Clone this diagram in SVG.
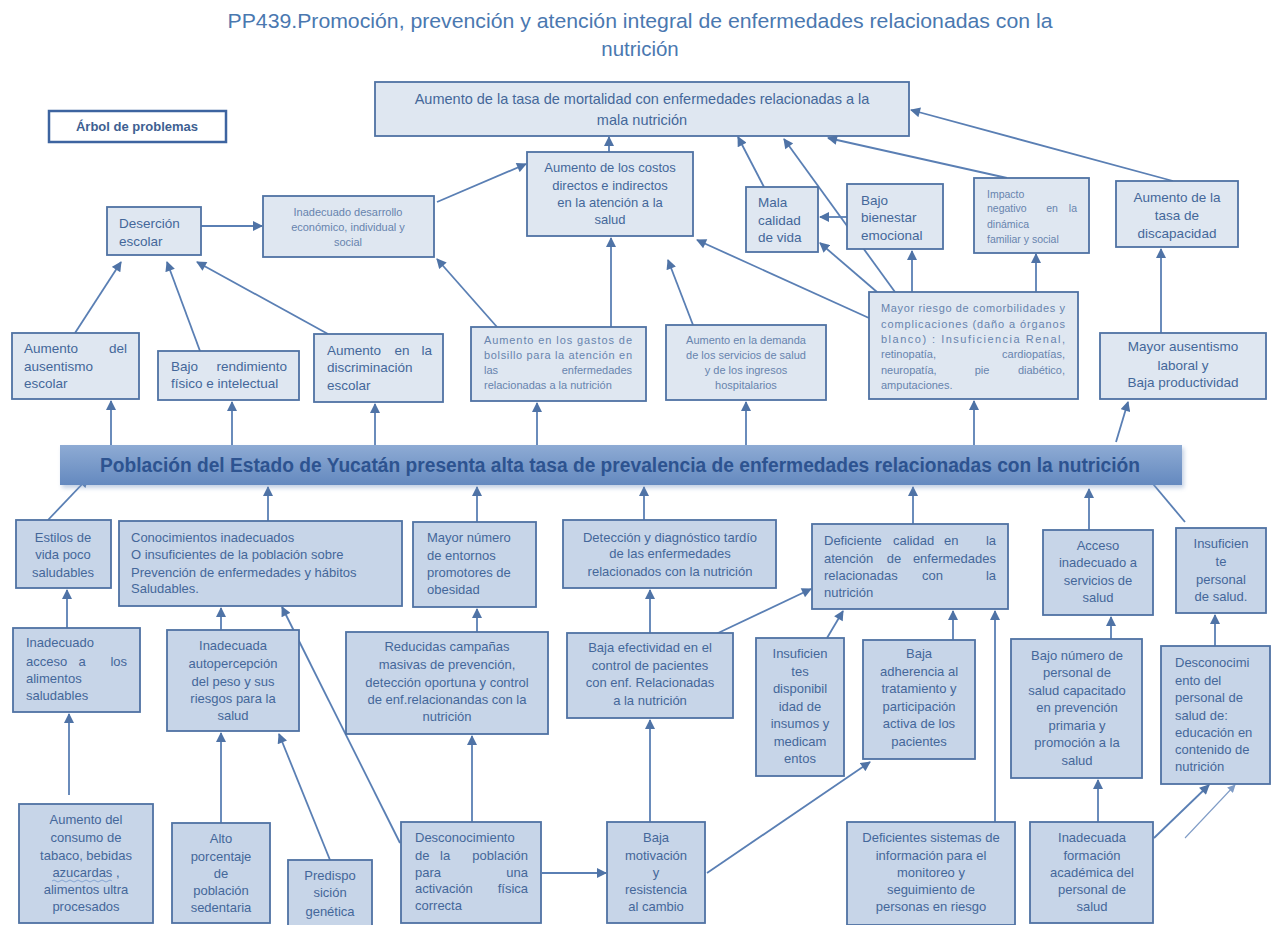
<svg xmlns="http://www.w3.org/2000/svg" width="1277" height="925" viewBox="0 0 1277 925">
  <defs>
    <marker id="ah" viewBox="0 0 10 10" refX="9" refY="5" markerWidth="11" markerHeight="10" markerUnits="userSpaceOnUse" orient="auto">
      <path d="M0,0 L10,5 L0,10 z" fill="#4f73a6"/>
    </marker>
    <marker id="ahs" viewBox="0 0 10 10" refX="9" refY="5" markerWidth="9" markerHeight="8" markerUnits="userSpaceOnUse" orient="auto">
      <path d="M0,0 L10,5 L0,10 z" fill="#7f9cc6"/>
    </marker>
    <linearGradient id="barFill" x1="0" y1="0" x2="0" y2="1">
      <stop offset="0" stop-color="#8eabd4"/>
      <stop offset="1" stop-color="#6489bf"/>
    </linearGradient>
    <filter id="soft" x="-5%" y="-30%" width="110%" height="160%">
      <feGaussianBlur stdDeviation="2"/>
    </filter>
    <style>
      .bl { fill:#dfe7f1; stroke:#4f72a3; stroke-width:1.8; }
      .bd { fill:#c7d5e8; stroke:#4f72a3; stroke-width:1.8; }
      .t { font-family:"Liberation Sans", Arial, sans-serif; font-size:13px; fill:#44679a; }
      .m { font-size:13.5px; }
      .s { font-size:11px; fill:#6784ae; }
      .c { text-anchor:middle; }
      .e { text-anchor:end; }
      .conn line { stroke:#5a7fb4; stroke-width:1.8; marker-end:url(#ah); }
      .conn line.thin { stroke:#7f9cc6; stroke-width:1.1; marker-end:url(#ahs); }
    </style>
  </defs>

  <rect width="1277" height="925" fill="#ffffff"/>

  <!-- Title -->
  <g id="title" class="t" style="font-size:20.5px;fill:#4a78b0">
    <text x="640" y="28" class="c" textLength="825" lengthAdjust="spacingAndGlyphs">PP439.Promoción, prevención y atención integral de enfermedades relacionadas con la</text>
    <text x="640" y="56" class="c">nutrición</text>
  </g>

  <g id="legend">
    <rect x="49" y="111" width="177" height="31" fill="#ffffff" stroke="#3d64a0" stroke-width="2.5"/>
    <text x="137" y="131" class="t c" style="font-weight:bold;fill:#3e5f92">Árbol de problemas</text>
  </g>

  <!-- Connectors -->
  <g id="connectors" class="conn">
    <line x1="201" y1="226" x2="262" y2="226"/>
    <line x1="437" y1="202" x2="526" y2="164"/>
    <line x1="609" y1="152" x2="609" y2="137"/>
    <line x1="611" y1="327" x2="611" y2="238"/>
    <line x1="497" y1="327" x2="437" y2="259"/>
    <line x1="764" y1="187" x2="738" y2="137"/>
    <line x1="895" y1="292" x2="784" y2="139"/>
    <line x1="877" y1="292" x2="820" y2="243"/>
    <line x1="869" y1="318" x2="697" y2="240"/>
    <line x1="912" y1="292" x2="912" y2="251"/>
    <line x1="847" y1="217" x2="820" y2="217"/>
    <line x1="693" y1="325" x2="668" y2="260"/>
    <line x1="1007" y1="178" x2="828" y2="138"/>
    <line x1="1173" y1="181" x2="911" y2="110"/>
    <line x1="1036" y1="292" x2="1036" y2="254"/>
    <line x1="1161" y1="333" x2="1161" y2="249"/>
    <line x1="111" y1="445" x2="111" y2="401"/>
    <line x1="232" y1="445" x2="232" y2="402"/>
    <line x1="375" y1="445" x2="375" y2="404"/>
    <line x1="537" y1="445" x2="537" y2="403"/>
    <line x1="746" y1="445" x2="746" y2="402"/>
    <line x1="974" y1="445" x2="974" y2="401"/>
    <line x1="1116" y1="442" x2="1128" y2="402"/>
    <line x1="75" y1="333" x2="121" y2="262"/>
    <line x1="200" y1="351" x2="167" y2="262"/>
    <line x1="328" y1="334" x2="197" y2="262"/>
    <line x1="48" y1="520" x2="88" y2="478"/>
    <line x1="268" y1="521" x2="268" y2="487"/>
    <line x1="477" y1="522" x2="477" y2="487"/>
    <line x1="644" y1="520" x2="644" y2="487"/>
    <line x1="913" y1="524" x2="913" y2="487"/>
    <line x1="1089" y1="530" x2="1089" y2="489"/>
    <line x1="1185" y1="522" x2="1143" y2="472"/>
    <line x1="67" y1="628" x2="67" y2="590"/>
    <line x1="221" y1="630" x2="221" y2="608"/>
    <line x1="400" y1="843" x2="282" y2="607"/>
    <line x1="477" y1="632" x2="477" y2="609"/>
    <line x1="650" y1="633" x2="650" y2="590"/>
    <line x1="716" y1="634" x2="811" y2="589"/>
    <line x1="827" y1="638" x2="843" y2="611"/>
    <line x1="953" y1="652" x2="953" y2="611"/>
    <line x1="995" y1="822" x2="995" y2="611"/>
    <line x1="1111" y1="647" x2="1111" y2="617"/>
    <line x1="1215" y1="646" x2="1215" y2="615"/>
    <line x1="69" y1="795" x2="69" y2="714"/>
    <line x1="221" y1="823" x2="221" y2="733"/>
    <line x1="330" y1="860" x2="279" y2="734"/>
    <line x1="472" y1="822" x2="472" y2="736"/>
    <line x1="542" y1="873" x2="606" y2="873"/>
    <line x1="650" y1="822" x2="650" y2="720"/>
    <line x1="707" y1="873" x2="870" y2="762"/>
    <line x1="1098" y1="822" x2="1098" y2="780"/>
    <line x1="1154" y1="838" x2="1209" y2="785"/>
    <line class="thin" x1="1185" y1="838" x2="1235" y2="785"/>
  </g>

  <!-- Central problem -->
  <g id="problema-central">
    <rect x="62" y="448" width="1122" height="40" fill="#7a98c4" opacity="0.45" filter="url(#soft)"/>
    <rect x="60" y="445" width="1122" height="40" fill="url(#barFill)"/>
    <text x="620" y="472" class="t c" textLength="1040" lengthAdjust="spacingAndGlyphs" style="font-size:19.5px;font-weight:bold;fill:#2d5390">Población  del Estado de Yucatán presenta alta tasa de prevalencia de enfermedades relacionadas con la nutrición</text>
  </g>

  <!-- Effects -->
  <g id="mortalidad">
    <rect class="bl" x="375" y="82" width="534" height="54"/>
    <text class="t c" x="642" y="104" style="font-size:14.5px">Aumento de la tasa de mortalidad con enfermedades relacionadas a la</text>
    <text class="t c" x="642" y="125" style="font-size:14.5px">mala nutrición</text>
  </g>

  <g id="desercion">
    <rect class="bl" x="107" y="207" width="94" height="48"/>
    <text class="t m" x="119" y="228">Deserción</text>
    <text class="t m" x="119" y="246">escolar</text>
  </g>

  <g id="desarrollo">
    <rect class="bl" x="263" y="196" width="171" height="61"/>
    <text class="t s c" x="348" y="216">Inadecuado desarrollo</text>
    <text class="t s c" x="348" y="231">económico, individual y</text>
    <text class="t s c" x="348" y="246">social</text>
  </g>

  <g id="costos">
    <rect class="bl" x="527" y="152" width="166" height="84"/>
    <text class="t c" x="610" y="172">Aumento de los costos</text>
    <text class="t c" x="610" y="190">directos e indirectos</text>
    <text class="t c" x="610" y="207">en la atención a la</text>
    <text class="t c" x="610" y="224">salud</text>
  </g>

  <g id="calidad-vida">
    <rect class="bl" x="746" y="187" width="72" height="65"/>
    <text class="t m" x="758" y="207">Mala</text>
    <text class="t m" x="758" y="225">calidad</text>
    <text class="t m" x="758" y="242">de vida</text>
  </g>

  <g id="bienestar">
    <rect class="bl" x="847" y="184" width="96" height="65"/>
    <text class="t m" x="861" y="205">Bajo</text>
    <text class="t m" x="861" y="222">bienestar</text>
    <text class="t m" x="861" y="240">emocional</text>
  </g>

  <g id="impacto">
    <rect class="bl" x="974" y="178" width="115" height="75"/>
    <text class="t s" x="987" y="197.5" style="font-size:10.5px">Impacto</text>
    <text class="t s" x="987" y="212" style="font-size:10.5px">negativo</text>
    <text class="t s c" x="1052" y="212" style="font-size:10.5px">en</text>
    <text class="t s e" x="1077" y="212" style="font-size:10.5px">la</text>
    <text class="t s" x="987" y="227.5" style="font-size:10.5px">dinámica</text>
    <text class="t s" x="987" y="242.5" style="font-size:10.5px">familiar y social</text>
  </g>

  <g id="discapacidad">
    <rect class="bl" x="1116" y="181" width="122" height="66"/>
    <text class="t m c" x="1177" y="202">Aumento de la</text>
    <text class="t m c" x="1177" y="220">tasa de</text>
    <text class="t m c" x="1177" y="238">discapacidad</text>
  </g>

  <g id="ausentismo-escolar">
    <rect class="bl" x="12" y="333" width="127" height="66"/>
    <text class="t m" x="24" y="353">Aumento</text>
    <text class="t m e" x="127" y="353">del</text>
    <text class="t m" x="24" y="371">ausentismo</text>
    <text class="t m" x="24" y="388">escolar</text>
  </g>

  <g id="rendimiento">
    <rect class="bl" x="158" y="351" width="141" height="49"/>
    <text class="t m" x="171" y="371">Bajo</text>
    <text class="t m e" x="287" y="371">rendimiento</text>
    <text class="t m" x="171" y="388">físico e intelectual</text>
  </g>

  <g id="discriminacion">
    <rect class="bl" x="314" y="334" width="129" height="68"/>
    <text class="t m" x="327" y="355">Aumento</text>
    <text class="t m c" x="402" y="355">en</text>
    <text class="t m e" x="432" y="355">la</text>
    <text class="t m" x="327" y="372">discriminación</text>
    <text class="t m" x="327" y="390">escolar</text>
  </g>

  <g id="gastos">
    <rect class="bl" x="471" y="327" width="175" height="74"/>
    <text class="t s" x="484" y="344" textLength="148" lengthAdjust="spacing">Aumento en los gastos de</text>
    <text class="t s" x="484" y="359" textLength="148" lengthAdjust="spacing">bolsillo para la atención en</text>
    <text class="t s" x="484" y="374">las</text>
    <text class="t s e" x="632" y="374">enfermedades</text>
    <text class="t s" x="484" y="389">relacionadas a la nutrición</text>
  </g>

  <g id="demanda">
    <rect class="bl" x="666" y="325" width="160" height="75"/>
    <text class="t s c" x="746" y="344">Aumento en la demanda</text>
    <text class="t s c" x="746" y="359">de los servicios de salud</text>
    <text class="t s c" x="746" y="374">y de los ingresos</text>
    <text class="t s c" x="746" y="389">hospitalarios</text>
  </g>

  <g id="comorbilidades">
    <rect class="bl" x="869" y="292" width="209" height="107"/>
    <text class="t s" x="881" y="312" textLength="184" lengthAdjust="spacing">Mayor riesgo de comorbilidades y</text>
    <text class="t s" x="881" y="327.5" textLength="184" lengthAdjust="spacing">complicaciones (daño a órganos</text>
    <text class="t s" x="881" y="343" textLength="184" lengthAdjust="spacing">blanco) : Insuficiencia Renal,</text>
    <text class="t s" x="881" y="358">retinopatía,</text>
    <text class="t s e" x="1065" y="358">cardiopatías,</text>
    <text class="t s" x="881" y="373.5">neuropatía,</text>
    <text class="t s c" x="982" y="373.5">pie</text>
    <text class="t s e" x="1065" y="373.5">diabético,</text>
    <text class="t s" x="881" y="389">amputaciones.</text>
  </g>

  <g id="ausentismo-laboral">
    <rect class="bl" x="1100" y="333" width="166" height="66"/>
    <text class="t m c" x="1183" y="351">Mayor ausentismo</text>
    <text class="t m c" x="1183" y="370">laboral y</text>
    <text class="t m c" x="1183" y="387">Baja productividad</text>
  </g>

  <!-- Causes -->
  <g id="estilos-vida">
    <rect class="bd" x="16" y="520" width="95" height="68"/>
    <text class="t c" x="63" y="542">Estilos de</text>
    <text class="t c" x="63" y="559">vida poco</text>
    <text class="t c" x="63" y="577">saludables</text>
  </g>

  <g id="conocimientos">
    <rect class="bd" x="119" y="521" width="283" height="85"/>
    <text class="t" x="131" y="542">Conocimientos inadecuados</text>
    <text class="t" x="131" y="559">O insuficientes de la población sobre</text>
    <text class="t" x="131" y="577">Prevención de enfermedades y hábitos</text>
    <text class="t" x="131" y="593">Saludables.</text>
  </g>

  <g id="entornos">
    <rect class="bd" x="413" y="522" width="123" height="85"/>
    <text class="t" x="427" y="542">Mayor número</text>
    <text class="t" x="427" y="560">de entornos</text>
    <text class="t" x="427" y="577">promotores de</text>
    <text class="t" x="427" y="594">obesidad</text>
  </g>

  <g id="deteccion">
    <rect class="bd" x="563" y="520" width="213" height="68"/>
    <text class="t c" x="670" y="542">Detección y diagnóstico tardío</text>
    <text class="t c" x="670" y="558">de las enfermedades</text>
    <text class="t c" x="670" y="576">relacionados con la nutrición</text>
  </g>

  <g id="calidad-atencion">
    <rect class="bd" x="812" y="524" width="196" height="85"/>
    <text class="t" x="824" y="545">Deficiente</text>
    <text class="t" x="893" y="545">calidad</text>
    <text class="t" x="944" y="545">en</text>
    <text class="t e" x="996" y="545">la</text>
    <text class="t" x="824" y="563">atención</text>
    <text class="t c" x="894" y="563">de</text>
    <text class="t e" x="996" y="563">enfermedades</text>
    <text class="t" x="824" y="580">relacionadas</text>
    <text class="t" x="922" y="580">con</text>
    <text class="t e" x="996" y="580">la</text>
    <text class="t" x="824" y="597">nutrición</text>
  </g>

  <g id="acceso-servicios">
    <rect class="bd" x="1043" y="530" width="110" height="85"/>
    <text class="t c" x="1098" y="550">Acceso</text>
    <text class="t c" x="1098" y="567">inadecuado a</text>
    <text class="t c" x="1098" y="585">servicios de</text>
    <text class="t c" x="1098" y="602">salud</text>
  </g>

  <g id="personal-insuficiente">
    <rect class="bd" x="1176" y="528" width="90" height="85"/>
    <text class="t c" x="1221" y="548">Insuficien</text>
    <text class="t c" x="1221" y="566">te</text>
    <text class="t c" x="1221" y="584">personal</text>
    <text class="t c" x="1221" y="601">de salud.</text>
  </g>

  <g id="acceso-alimentos">
    <rect class="bd" x="13" y="628" width="127" height="84"/>
    <text class="t" x="26" y="647">Inadecuado</text>
    <text class="t" x="26" y="666">acceso</text>
    <text class="t c" x="82" y="666">a</text>
    <text class="t e" x="127" y="666">los</text>
    <text class="t" x="26" y="683">alimentos</text>
    <text class="t" x="26" y="700">saludables</text>
  </g>

  <g id="autopercepcion">
    <rect class="bd" x="167" y="630" width="132" height="101"/>
    <text class="t c" x="233" y="650">Inadecuada</text>
    <text class="t c" x="233" y="668">autopercepción</text>
    <text class="t c" x="233" y="686">del peso y sus</text>
    <text class="t c" x="233" y="703">riesgos para la</text>
    <text class="t c" x="233" y="720">salud</text>
  </g>

  <g id="campanas">
    <rect class="bd" x="346" y="632" width="202" height="102"/>
    <text class="t c" x="447" y="651">Reducidas campañas</text>
    <text class="t c" x="447" y="669">masivas de prevención,</text>
    <text class="t c" x="447" y="687">detección oportuna y control</text>
    <text class="t c" x="447" y="704">de enf.relacionandas con la</text>
    <text class="t c" x="447" y="721">nutrición</text>
  </g>

  <g id="efectividad">
    <rect class="bd" x="567" y="633" width="166" height="85"/>
    <text class="t c" x="650" y="652">Baja efectividad en el</text>
    <text class="t c" x="650" y="670">control de pacientes</text>
    <text class="t c" x="650" y="687">con enf. Relacionadas</text>
    <text class="t c" x="650" y="705">a la nutrición</text>
  </g>

  <g id="insumos">
    <rect class="bd" x="756" y="638" width="88" height="138"/>
    <text class="t c" x="800" y="658">Insuficien</text>
    <text class="t c" x="800" y="676">tes</text>
    <text class="t c" x="800" y="693">disponibil</text>
    <text class="t c" x="800" y="711">idad de</text>
    <text class="t c" x="800" y="728">insumos y</text>
    <text class="t c" x="800" y="746">medicam</text>
    <text class="t c" x="800" y="763">entos</text>
  </g>

  <g id="adherencia">
    <rect class="bd" x="863" y="640" width="112" height="119"/>
    <text class="t c" x="919" y="658">Baja</text>
    <text class="t c" x="919" y="676">adherencia al</text>
    <text class="t c" x="919" y="693">tratamiento y</text>
    <text class="t c" x="919" y="711">participación</text>
    <text class="t c" x="919" y="728">activa de los</text>
    <text class="t c" x="919" y="746">pacientes</text>
  </g>

  <g id="personal-capacitado">
    <rect class="bd" x="1011" y="639" width="131" height="139"/>
    <text class="t c" x="1077" y="660">Bajo número de</text>
    <text class="t c" x="1077" y="677">personal de</text>
    <text class="t c" x="1077" y="695">salud capacitado</text>
    <text class="t c" x="1077" y="712">en prevención</text>
    <text class="t c" x="1077" y="730">primaria y</text>
    <text class="t c" x="1077" y="747">promoción a la</text>
    <text class="t c" x="1077" y="765">salud</text>
  </g>

  <g id="desconocimiento-personal">
    <rect class="bd" x="1161" y="646" width="109" height="138"/>
    <text class="t" x="1175" y="667">Desconocimi</text>
    <text class="t" x="1175" y="685">ento del</text>
    <text class="t" x="1175" y="702">personal de</text>
    <text class="t" x="1175" y="720">salud de:</text>
    <text class="t" x="1175" y="737">educación en</text>
    <text class="t" x="1175" y="754">contenido de</text>
    <text class="t" x="1175" y="771">nutrición</text>
  </g>

  <g id="consumo">
    <rect class="bd" x="19" y="804" width="134" height="119"/>
    <text class="t c" x="86" y="824">Aumento del</text>
    <text class="t c" x="86" y="842">consumo de</text>
    <text class="t c" x="86" y="860">tabaco, bebidas</text>
    <text class="t c" x="86" y="877">azucardas ,</text>
    <path d="M52,881 q2,-2 4,0 t4,0 t4,0 t4,0 t4,0 t4,0 t4,0 t4,0 t4,0 t4,0 t4,0 t4,0 t4,0 t4,0 t4,0" fill="none" stroke="#7e9fcf" stroke-width="0.9"/>
    <text class="t c" x="86" y="894">alimentos ultra</text>
    <text class="t c" x="86" y="911">procesados</text>
  </g>

  <g id="sedentaria">
    <rect class="bd" x="172" y="823" width="98" height="100"/>
    <text class="t c" x="221" y="843">Alto</text>
    <text class="t c" x="221" y="861">porcentaje</text>
    <text class="t c" x="221" y="878">de</text>
    <text class="t c" x="221" y="895">población</text>
    <text class="t c" x="221" y="912">sedentaria</text>
  </g>

  <g id="genetica">
    <rect class="bd" x="288" y="860" width="84" height="70"/>
    <text class="t c" x="330" y="880">Predispo</text>
    <text class="t c" x="330" y="897">sición</text>
    <text class="t c" x="330" y="916">genética</text>
  </g>

  <g id="activacion-fisica">
    <rect class="bd" x="401" y="822" width="140" height="101"/>
    <text class="t" x="415" y="842">Desconocimiento</text>
    <text class="t" x="415" y="860">de</text>
    <text class="t" x="440" y="860">la</text>
    <text class="t e" x="528" y="860">población</text>
    <text class="t" x="415" y="877">para</text>
    <text class="t e" x="528" y="877">una</text>
    <text class="t" x="415" y="893">activación</text>
    <text class="t e" x="528" y="893">física</text>
    <text class="t" x="415" y="910">correcta</text>
  </g>

  <g id="motivacion">
    <rect class="bd" x="607" y="822" width="98" height="101"/>
    <text class="t c" x="656" y="842">Baja</text>
    <text class="t c" x="656" y="860">motivación</text>
    <text class="t c" x="656" y="877">y</text>
    <text class="t c" x="656" y="894">resistencia</text>
    <text class="t c" x="656" y="911">al cambio</text>
  </g>

  <g id="sistemas-informacion">
    <rect class="bd" x="847" y="822" width="168" height="103"/>
    <text class="t c" x="931" y="842">Deficientes sistemas de</text>
    <text class="t c" x="931" y="860">información para el</text>
    <text class="t c" x="931" y="877">monitoreo y</text>
    <text class="t c" x="931" y="894">seguimiento de</text>
    <text class="t c" x="931" y="911">personas en riesgo</text>
  </g>

  <g id="formacion">
    <rect class="bd" x="1030" y="822" width="123" height="101"/>
    <text class="t c" x="1092" y="842">Inadecuada</text>
    <text class="t c" x="1092" y="860">formación</text>
    <text class="t c" x="1092" y="877">académica del</text>
    <text class="t c" x="1092" y="894">personal de</text>
    <text class="t c" x="1092" y="911">salud</text>
  </g>
</svg>
